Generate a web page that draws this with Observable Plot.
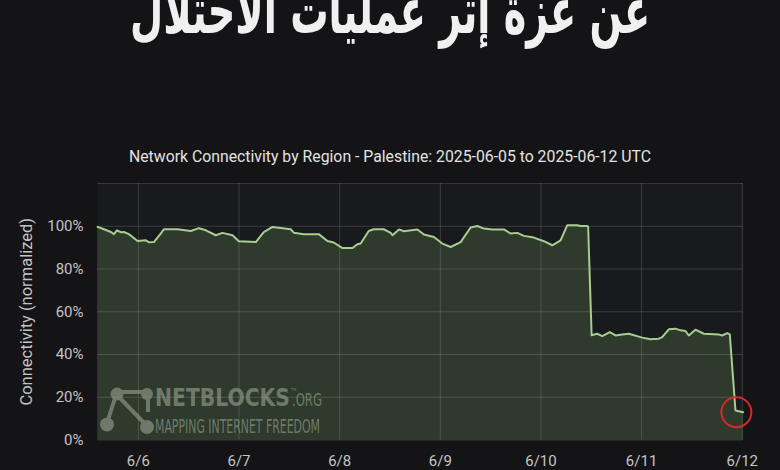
<!DOCTYPE html>
<html>
<head>
<meta charset="utf-8">
<script src="https://cdn.jsdelivr.net/npm/d3@7"></script>
<script src="https://cdn.jsdelivr.net/npm/@observablehq/plot@0.6"></script>
<style>
html,body{margin:0;padding:0;background:#141416;}
#wrap{position:relative;width:780px;height:470px;overflow:hidden;background:#141416;font-family:Roboto,"Noto Sans",sans-serif;}
#headline{position:absolute;left:0;top:0;}
#subtitle{position:absolute;left:0;top:147px;width:780px;text-align:center;color:#e2e2e2;font-size:15.8px;line-height:20px;}
#chart{position:absolute;left:0;top:0;}
#logo{position:absolute;left:0;top:0;pointer-events:none;}
</style>
</head>
<body>
<div id="wrap">
  <svg id="headline" width="780" height="60">
    <text x="390" y="33" text-anchor="middle" font-family="DejaVu Sans" font-weight="bold" font-size="64" fill="#f0f0f0" textLength="520" lengthAdjust="spacingAndGlyphs">عن غزة إثر عمليات الاحتلال</text>
  </svg>
  <div id="subtitle">Network Connectivity by Region - Palestine: 2025-06-05 to 2025-06-12 UTC</div>
  <div id="chart"></div>
  <svg id="logo" width="780" height="470">
    <g fill="#a3ad9f" stroke="#a3ad9f" opacity="0.55" font-family="'DejaVu Sans Condensed','DejaVu Sans',sans-serif">
      <line x1="117" y1="392" x2="146" y2="392" stroke-width="4"/>
      <line x1="116" y1="395" x2="107" y2="423" stroke-width="4"/>
      <line x1="119" y1="397" x2="145" y2="424" stroke-width="4"/>
      <line x1="148" y1="399" x2="148" y2="412" stroke-width="4"/>
      <circle cx="117" cy="394" r="6.5" stroke="none"/>
      <circle cx="147" cy="394" r="6" stroke="none"/>
      <circle cx="107" cy="424.5" r="7" stroke="none"/>
      <circle cx="147" cy="427" r="7" stroke="none"/>
      <text x="155" y="406" font-size="24" font-weight="bold" stroke="none" textLength="135" lengthAdjust="spacingAndGlyphs">NETBLOCKS</text>
      <text x="291" y="391" font-size="4" stroke="none">TM</text>
      <text x="292" y="406" font-size="18" stroke="none" textLength="30" lengthAdjust="spacingAndGlyphs">.ORG</text>
      <text x="155" y="432.5" font-size="20" stroke="none" textLength="165" lengthAdjust="spacingAndGlyphs">MAPPING INTERNET FREEDOM</text>
    </g>
  </svg>
</div>
<script>
// Timestamps (UTC) and normalized connectivity values
const times = [
  "2025-06-05T14:17Z","2025-06-05T15:47Z","2025-06-05T17:27Z","2025-06-05T18:10Z","2025-06-05T18:53Z",
  "2025-06-05T19:50Z","2025-06-05T20:32Z","2025-06-05T21:44Z","2025-06-05T23:49Z","2025-06-06T01:47Z",
  "2025-06-06T02:30Z","2025-06-06T03:42Z","2025-06-06T05:22Z","2025-06-06T06:05Z","2025-06-06T09:20Z",
  "2025-06-06T12:30Z","2025-06-06T14:25Z","2025-06-06T16:05Z","2025-06-06T18:28Z","2025-06-06T20:04Z",
  "2025-06-06T22:27Z","2025-06-06T23:57Z","2025-06-07T04:00Z","2025-06-07T05:54Z","2025-06-07T07:59Z",
  "2025-06-07T12:20Z","2025-06-07T13:03Z","2025-06-07T15:26Z","2025-06-07T19:01Z","2025-06-07T21:05Z",
  "2025-06-07T22:35Z","2025-06-08T00:40Z","2025-06-08T03:03Z","2025-06-08T04:14Z","2025-06-08T05:01Z",
  "2025-06-08T06:56Z","2025-06-08T08:07Z","2025-06-08T10:30Z","2025-06-08T12:10Z","2025-06-08T12:35Z",
  "2025-06-08T14:09Z","2025-06-08T15:16Z","2025-06-08T18:32Z","2025-06-08T20:06Z","2025-06-08T22:29Z",
  "2025-06-09T00:29Z","2025-06-09T02:28Z","2025-06-09T04:51Z","2025-06-09T07:14Z","2025-06-09T08:50Z",
  "2025-06-09T10:24Z","2025-06-09T12:24Z","2025-06-09T15:10Z","2025-06-09T16:46Z","2025-06-09T18:22Z",
  "2025-06-09T19:56Z","2025-06-09T22:19Z","2025-06-10T00:42Z","2025-06-10T02:42Z","2025-06-10T04:41Z",
  "2025-06-10T06:17Z","2025-06-10T08:40Z","2025-06-10T09:27Z","2025-06-10T11:03Z","2025-06-10T11:15Z",
  "2025-06-10T12:05Z","2025-06-10T13:25Z","2025-06-10T14:37Z","2025-06-10T16:25Z","2025-06-10T17:47Z",
  "2025-06-10T19:23Z","2025-06-10T20:57Z","2025-06-11T00:09Z","2025-06-11T02:08Z","2025-06-11T04:06Z",
  "2025-06-11T04:55Z","2025-06-11T06:29Z","2025-06-11T08:05Z","2025-06-11T09:17Z","2025-06-11T10:28Z",
  "2025-06-11T11:15Z","2025-06-11T12:51Z","2025-06-11T14:50Z","2025-06-11T18:24Z","2025-06-11T19:13Z",
  "2025-06-11T20:25Z","2025-06-11T21:02Z","2025-06-11T22:23Z","2025-06-12T00:13Z"
];
const values = [
  0.997,0.986,0.973,0.963,0.981,
  0.972,0.973,0.963,0.931,0.934,
  0.925,0.926,0.967,0.986,0.986,
  0.978,0.991,0.981,0.958,0.969,
  0.958,0.930,0.926,0.973,0.997,
  0.986,0.970,0.963,0.963,0.931,
  0.924,0.898,0.898,0.916,0.919,
  0.978,0.986,0.986,0.969,0.958,
  0.985,0.977,0.985,0.961,0.950,
  0.919,0.903,0.926,0.994,1.001,
  0.989,0.985,0.985,0.966,0.969,
  0.955,0.947,0.930,0.911,0.934,
  1.005,1.005,1.001,1.001,0.998,
  0.490,0.497,0.486,0.505,0.489,
  0.494,0.497,0.479,0.471,0.474,
  0.481,0.518,0.521,0.513,0.510,
  0.489,0.516,0.497,0.494,0.489,
  0.500,0.494,0.138,0.130
];
const xDomain = ["2025-06-05T14:15Z", "2025-06-12T00:18Z"];
const yTicks = [0, 0.2, 0.4, 0.6, 0.8, 1.0];
const highlightTime = ["2025-06-11T22:36Z"];
const highlightValue = [0.13];

const data = times.map((t, i) => ({date: new Date(t), value: values[i]}));
const highlight = highlightTime.map((t, i) => ({date: new Date(t), value: highlightValue[i]}));
const dayTicks = d3.utcDay.range(new Date("2025-06-06T00:00Z"), new Date("2025-06-12T01:00Z"));

const chart = Plot.plot({
  width: 780,
  height: 470,
  marginLeft: 97,
  marginRight: 37,
  marginTop: 183,
  marginBottom: 30.5,
  style: {background: "transparent", color: "#c4c4c4", fontFamily: "Roboto, 'Noto Sans', sans-serif", fontSize: "15px"},
  x: {type: "utc", domain: xDomain.map(d => new Date(d)), label: null},
  y: {domain: [0, 1.2], label: null},
  marks: [
    Plot.frame({fill: "#191a1d", stroke: null}),
    Plot.areaY(data, {x: "date", y: "value", fill: "#2e3a2b"}),
    Plot.gridX(dayTicks, {stroke: "#ffffff", strokeOpacity: 0.14}),
    Plot.gridY([...yTicks, 1.2], {stroke: "#ffffff", strokeOpacity: 0.14}),
    Plot.lineY(data, {x: "date", y: "value", stroke: "#a7cd91", strokeWidth: 2}),
    Plot.dot(highlight, {x: "date", y: "value", r: 15, stroke: "#d52a2a", strokeWidth: 2, fill: "none"}),
    Plot.axisX({ticks: dayTicks, tickFormat: d3.utcFormat("%-m/%-d"), tickSize: 0, tickPadding: 15, label: null}),
    Plot.axisY({ticks: yTicks, tickFormat: d3.format(".0%"), tickSize: 0, tickPadding: 14, label: null}),
    Plot.axisY({ticks: [], label: "Connectivity (normalized)", labelAnchor: "center", labelArrow: "none", labelOffset: 77, fontSize: 16.5, tickSize: 0})
  ]
});
document.getElementById("chart").appendChild(chart);
</script>
</body>
</html>
